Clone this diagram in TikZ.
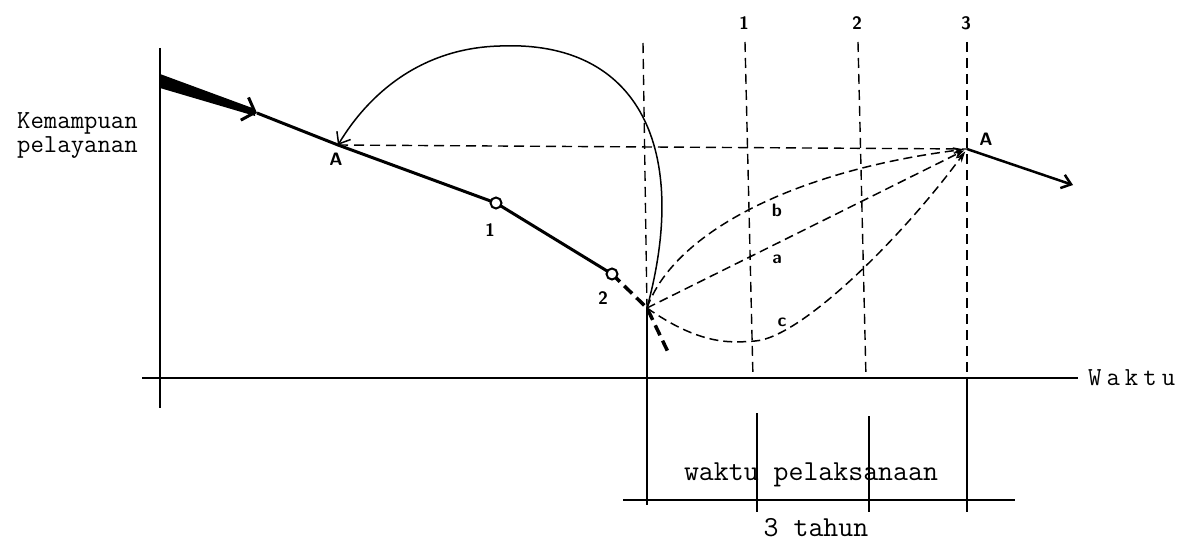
\documentclass[tikz,border=0pt]{standalone}
\usepackage{tikz}
\usetikzlibrary{arrows.meta, calc}

\begin{document}
\begin{tikzpicture}[x=1pt, y=-1pt,
      tt/.style={font=\fontsize{26}{24}\selectfont\ttfamily, inner sep=0pt},
      ttb/.style={font=\fontsize{29}{32}\selectfont\ttfamily, inner sep=0pt},
      lbl/.style={font=\fontsize{18}{20}\selectfont\sffamily\bfseries, inner sep=0pt},
      axis/.style={line width=2pt},
      guide/.style={line width=1.4pt, dash pattern=on 10pt off 6pt},
      tick/.style={line width=1.3pt},
      route/.style={line width=3pt},
      opt/.style={line width=1.5pt, dash pattern=on 9pt off 5pt,
                  -{Stealth[length=11pt,width=7pt]}, shorten >=3pt},
      ring/.style={circle, draw, fill=white, line width=2pt,
                   minimum size=11pt, inner sep=0pt}
    ]
    \useasboundingbox (0,0) rectangle (1187,543);

    % key points
    \coordinate (yt)  at (160,48);
    \coordinate (yb)  at (160,408);
    \coordinate (xl)  at (142,378);
    \coordinate (xr)  at (1078,378);
    \coordinate (st)  at (160,80);
    \coordinate (ah)  at (257,113);
    \coordinate (A1)  at (338,145);
    \coordinate (p1)  at (496,203);
    \coordinate (p2)  at (612,274);
    \coordinate (P)   at (647,308);
    \coordinate (pe)  at (668,352);
    \coordinate (A2)  at (967,149);
    \coordinate (out) at (1073,185);

    % axes
    \draw[axis] (yt) -- (yb);
    \draw[axis] (xl) -- (xr);
    \node[tt, anchor=base west] (wk) at (1088,385)
          {W\kern5pt a\kern5pt k\kern5pt t\kern5pt u};
    \node[tt, anchor=north west, align=left] (km) at (17,112)
          {Kemampuan\\pelayanan};

    % vertical guides
    \coordinate (g0t) at (643,43);
    \draw[guide] (g0t) -- (P);
    \foreach \xt/\xb/\n [count=\i] in {745/753/1, 858/866/2, 967/967/3} {
      \coordinate (g\i t) at (\xt,42);
      \coordinate (g\i b) at (\xb,378);
      \draw[guide] (g\i t) -- (g\i b);
      \node[lbl] (n\i) at (\xt-1,23) {\n};
    }
    \draw[guide] (A1) -- (A2);

    % time span below the axis
    \coordinate (s0) at (647,505);
    \coordinate (s1t) at (757,413);  \coordinate (s1b) at (757,512);
    \coordinate (s2t) at (869,416);  \coordinate (s2b) at (869,512);
    \coordinate (s3) at (967,512);
    \coordinate (hl) at (623,500);   \coordinate (hr) at (1015,500);
    \draw[tick] (P) -- (s0);
    \draw[tick] (s1t) -- (s1b);
    \draw[tick] (s2t) -- (s2b);
    \draw[tick] (g3b) -- (s3);
    \draw[tick] (hl) -- (hr);
    \node[ttb, anchor=base] (wp) at (811,480) {waktu pelaksanaan};
    \node[ttb, anchor=base] (th) at (816,536) {3 tahun};

    % falling capability
    \fill (160,74) -- (255,109) -- (255,116) -- (160,88) -- cycle;
    \draw[route, -{Straight Barb[length=11pt,width=24pt]}] (st) -- (ah);
    \draw[route] (ah) -- (A1) -- (p1) -- (p2);
    \draw[line width=3.5pt, dash pattern=on 11pt off 6pt] (p2) -- (P) -- (pe);
    \node[ring] (c1) at (p1) {};
    \node[ring] (c2) at (p2) {};
    \node[lbl] (la1) at (336,159) {A};
    \node[lbl] (l1)  at (490,230) {1};
    \node[lbl] (l2)  at (603,298) {2};

    % back to A
    \draw[line width=1.5pt, -{Straight Barb[length=10pt,width=16pt]}]
          (P) .. controls (690,150) and (640,40) .. (500,46)
              .. controls (420,48) and (368,95) .. (A1);

    % options a, b, c
    \draw[opt] (P) -- (A2);
    \draw[opt] (P) .. controls (675,230) and (800,170) .. (A2);
    \draw[opt] (P) .. controls (700,345) and (730,343) .. (755,341)
                   .. controls (800,338) and (900,240) .. (A2);
    \node[lbl] (lb) at (777,210) {b};
    \node[lbl] (la) at (777,259) {a};
    \node[lbl] (lc) at (782,322) {c};

    \node[lbl] (la2) at (986,139) {A};
    \draw[line width=2.5pt, -{Straight Barb[length=9pt,width=14pt]}] (A2) -- (out);
  \end{tikzpicture}
\end{document}
